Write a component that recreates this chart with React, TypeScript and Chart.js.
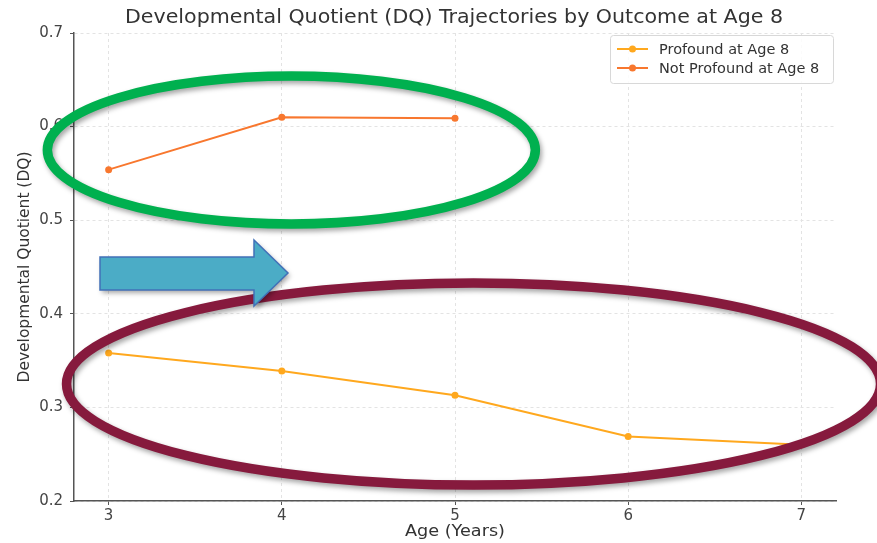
import React, { useEffect, useRef } from "react";
import { Chart, registerables } from "chart.js";

Chart.register(...registerables);

const ages = [3, 4, 5, 6, 7];
const profoundValues = [0.358, 0.339, 0.313, 0.269, 0.26];
const notProfoundAges = [3, 4, 5];
const notProfoundValues = [0.554, 0.61, 0.609];
const xTicks = [3, 4, 5, 6, 7];
const yTicks = [0.2, 0.3, 0.4, 0.5, 0.6, 0.7];
const seriesNames = ["Profound at Age 8", "Not Profound at Age 8"];
const seriesColors = ["#ffa81e", "#f8772e"];
const titleText = "Developmental Quotient (DQ) Trajectories by Outcome at Age 8";
const xTitle = "Age (Years)";
const yTitle = "Developmental Quotient (DQ)";

const FONT = "'DejaVu Sans', sans-serif";

function stretchedText(ctx: CanvasRenderingContext2D, text: string, x: number, y: number, target: number) {
  const w = ctx.measureText(text).width;
  const k = target / w;
  ctx.save();
  ctx.translate(x, y);
  ctx.scale(k, 1);
  ctx.fillText(text, 0, 0);
  ctx.restore();
}

const overlayPlugin = {
  id: "overlay",
  afterDraw(chart: any) {
    const ctx = chart.ctx as CanvasRenderingContext2D;
    const area = chart.chartArea;
    const xs = chart.scales.x;
    const ys = chart.scales.y;
    ctx.save();
    // title
    ctx.fillStyle = "#333";
    ctx.font = `20px ${FONT}`;
    ctx.textAlign = "center";
    ctx.textBaseline = "middle";
    stretchedText(ctx, titleText, 454, 18, 658);
    // axis titles
    ctx.font = `16px ${FONT}`;
    stretchedText(ctx, xTitle, 455, 532, 100);
    ctx.font = `15px ${FONT}`;
    ctx.save();
    ctx.translate(25, 267);
    ctx.rotate(-Math.PI / 2);
    stretchedText(ctx, yTitle, 0, 0, 231);
    ctx.restore();

    // legend
    const lx = 610, ly = 35, lw = 223, lh = 48;
    ctx.fillStyle = "rgba(255,255,255,0.85)";
    ctx.strokeStyle = "#d8d8d8";
    ctx.lineWidth = 1;
    ctx.beginPath();
    (ctx as any).roundRect(lx + 0.5, ly + 0.5, lw, lh, 3);
    ctx.fill();
    ctx.stroke();
    ctx.font = `14.5px ${FONT}`;
    ctx.textAlign = "left";
    seriesNames.forEach((name, i) => {
      const yy = ly + 14 + i * 19;
      ctx.strokeStyle = seriesColors[i];
      ctx.lineWidth = 2;
      ctx.beginPath();
      ctx.moveTo(617, yy);
      ctx.lineTo(648, yy);
      ctx.stroke();
      ctx.fillStyle = seriesColors[i];
      ctx.beginPath();
      ctx.arc(632.5, yy, 3.5, 0, Math.PI * 2);
      ctx.fill();
      ctx.fillStyle = "#333";
      ctx.fillText(name, 659, yy + 1);
    });

    // annotations
    const px = (v: number) => xs.getPixelForValue(v);
    const py = (v: number) => ys.getPixelForValue(v);
    ctx.shadowColor = "rgba(0,0,0,0.35)";
    ctx.shadowBlur = 5;
    ctx.shadowOffsetX = 2;
    ctx.shadowOffsetY = 3;
    // green ellipse
    ctx.strokeStyle = "#00b04f";
    ctx.lineWidth = 9.5;
    ctx.beginPath();
    ctx.ellipse(px(4.055), py(0.575), 244, 74, 0, 0, Math.PI * 2);
    ctx.stroke();
    // maroon ellipse
    ctx.strokeStyle = "#861a3d";
    ctx.beginPath();
    ctx.ellipse(px(5.107), py(0.325), 407, 101, 0, 0, Math.PI * 2);
    ctx.stroke();
    // arrow
    ctx.fillStyle = "#4bacc6";
    ctx.strokeStyle = "#4170b8";
    ctx.lineWidth = 1.5;
    ctx.beginPath();
    ctx.moveTo(100, 257);
    ctx.lineTo(254, 257);
    ctx.lineTo(254, 240);
    ctx.lineTo(288, 273);
    ctx.lineTo(254, 306);
    ctx.lineTo(254, 290);
    ctx.lineTo(100, 290);
    ctx.closePath();
    ctx.fill();
    ctx.shadowColor = "transparent";
    ctx.stroke();
    ctx.restore();
  },
};

export default function App() {
  const ref = useRef<HTMLCanvasElement>(null);
  useEffect(() => {
    document.body.style.margin = "0";
    const chart = new Chart(ref.current!, {
      type: "line",
      data: {
        datasets: [
          {
            label: seriesNames[0],
            data: ages.map((a, i) => ({ x: a, y: profoundValues[i] })),
            borderColor: seriesColors[0],
            backgroundColor: seriesColors[0],
            borderWidth: 2,
            pointRadius: 3.5,
            pointBorderWidth: 0,
          },
          {
            label: seriesNames[1],
            data: notProfoundAges.map((a, i) => ({ x: a, y: notProfoundValues[i] })),
            borderColor: seriesColors[1],
            backgroundColor: seriesColors[1],
            borderWidth: 2,
            pointRadius: 3.5,
            pointBorderWidth: 0,
          },
        ],
      },
      options: {
        animation: false,
        responsive: false,
        layout: { padding: { top: 33, right: 41, left: 0, bottom: 0 } },
        plugins: { legend: { display: false }, title: { display: false }, tooltip: { enabled: false } },
        scales: {
          x: {
            type: "linear",
            min: 2.8,
            max: 7.2,
            afterBuildTicks: (s: any) => {
              s.ticks = xTicks.map((v) => ({ value: v }));
            },
            afterFit: (s: any) => {
              s.height = 42;
            },
            ticks: {
              color: "#444",
              font: { family: FONT, size: 15 },
              padding: 2,
              maxRotation: 0,
              callback: (v: any) => String(v),
            },
            grid: { color: "#e3e3e3", tickColor: "#555", tickLength: 4, tickBorderDash: [] },
            border: { display: true, color: "#555", width: 1.5, dash: [3, 3] },
          },
          y: {
            type: "linear",
            min: 0.2,
            max: 0.7,
            afterBuildTicks: (s: any) => {
              s.ticks = yTicks.map((v) => ({ value: v }));
            },
            afterFit: (s: any) => {
              s.width = 74;
            },
            ticks: {
              color: "#444",
              font: { family: FONT, size: 15 },
              padding: 7,
              callback: (v: any) => Number(v).toFixed(1),
            },
            grid: { color: "#e3e3e3", tickColor: "#555", tickLength: 4, tickBorderDash: [] },
            border: { display: true, color: "#555", width: 1.5, dash: [3, 3] },
          },
        },
      },
      plugins: [overlayPlugin],
    } as any);
    return () => chart.destroy();
  }, []);
  return (
    <div style={{ position: "fixed", left: 0, top: 0, width: 877, height: 543, background: "#fff" }}>
      <canvas ref={ref} width={877} height={543} style={{ width: 877, height: 543 }} />
    </div>
  );
}
